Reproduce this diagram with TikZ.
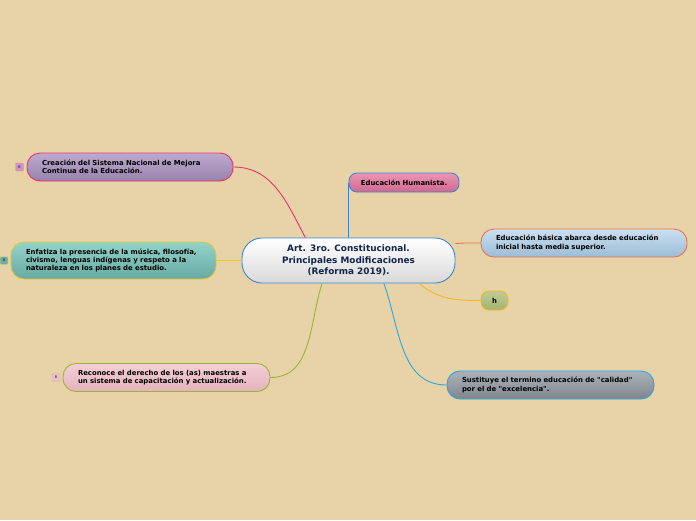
\documentclass[tikz,border=0pt]{standalone}
\usepackage{fontspec}
\setmainfont{DejaVu Sans}
\definecolor{fondo}{HTML}{E8D3A9}
\definecolor{rojo}{HTML}{E8336B}
\definecolor{amarillo}{HTML}{E6C82A}
\definecolor{verde}{HTML}{9AB532}
\definecolor{azul}{HTML}{3A86D0}
\definecolor{naranja}{HTML}{EE7050}
\definecolor{oro}{HTML}{F4B81C}
\definecolor{cian}{HTML}{29A8E0}
\definecolor{marino}{HTML}{14244A}
\begin{document}
\begin{tikzpicture}[x=1pt,y=-1pt,
  rama/.style={rounded corners=13pt,draw,line width=0.9pt,minimum height=28pt,
    inner xsep=15pt,inner ysep=2pt,align=left,text=black,
    font=\fontsize{6.9}{8.3}\selectfont\bfseries},
  marca/.style={rounded corners=1pt,draw,line width=0.4pt,minimum size=8pt,
    inner sep=0pt,font=\fontsize{3.5}{4}\selectfont},
  enlace/.style={line width=0.9pt}]

\useasboundingbox[fill=fondo] (0,0) rectangle (696,520);

% Nodo central
\node[rounded corners=20pt,draw=azul,line width=0.9pt,top color=white,
  bottom color=gray!30,minimum width=213pt,minimum height=45pt,align=center,
  text=marino,font=\fontsize{8.9}{11.5}\selectfont\bfseries]
  (centro) at (348.5,260.5)
  {Art. 3ro. Constitucional.\\Principales Modificaciones\\(Reforma 2019).};

% Creacion
\node[rama,draw=rojo,top color={rgb,255:red,190;green,170;blue,208},
  bottom color={rgb,255:red,152;green,130;blue,172},text width=176pt]
  (crea) at (130,167) {Creación del Sistema Nacional de Mejora\\Continua de la Educación.};
\node[marca,draw=rojo!60,fill={rgb,255:red,200;green,150;blue,200}] (m1) at (19.5,167) {6};
\draw[enlace,rojo] (crea.east) to[out=0,in=118] (centro.152);

% Enfatiza
\node[rama,draw=amarillo,minimum height=37pt,top color={rgb,255:red,146;green,212;blue,202},
  bottom color={rgb,255:red,104;green,170;blue,162},text width=175pt]
  (enfa) at (113.5,260.5) {Enfatiza la presencia de la música, filosofía,\\civismo, lenguas indígenas y respeto a la\\naturaleza en los planes de estudio.};
\node[marca,draw=amarillo!70,fill={rgb,255:red,110;green,175;blue,165}] (m2) at (4,260.5) {8};
\draw[enlace,amarillo] (enfa.east) -- (centro.west);

% Reconoce
\node[rama,draw=verde,top color={rgb,255:red,244;green,206;blue,214},
  bottom color={rgb,255:red,228;green,178;blue,190},text width=177pt]
  (reco) at (166.5,377.5) {Reconoce el derecho de los (as) maestras a\\un sistema de capacitación y actualización.};
\node[marca,draw=verde!70,fill={rgb,255:red,236;green,190;blue,200}] (m3) at (56,377.5) {8};
\draw[enlace,verde] (reco.east) to[out=0,in=-108] (centro.221);

% Educacion Humanista
\node[rama,draw=azul,rounded corners=8pt,minimum height=19pt,minimum width=110pt,
  inner xsep=4pt,align=center,top color={rgb,255:red,234;green,150;blue,180},
  bottom color={rgb,255:red,208;green,104;blue,142}]
  (huma) at (404,182.5) {Educación Humanista.};
\draw[enlace,azul] (centro.north) -- (huma.west);

% Educacion basica
\node[rama,draw=naranja,top color={rgb,255:red,202;green,224;blue,240},
  bottom color={rgb,255:red,156;green,188;blue,214},text width=176pt]
  (basi) at (584,243) {Educación básica abarca desde educación\\inicial hasta media superior.};
\draw[enlace,naranja] (centro.9) to[out=5,in=180] (basi.west);

% h
\node[rama,draw=oro,rounded corners=8pt,minimum height=19pt,minimum width=27pt,
  inner xsep=2pt,align=center,top color={rgb,255:red,192;green,204;blue,146},
  bottom color={rgb,255:red,164;green,180;blue,112}]
  (hh) at (494.5,300.5) {h};
\draw[enlace,oro] (centro.-18) to[out=-40,in=180] (hh.west);

% Sustituye
\node[rama,draw=cian,top color={rgb,255:red,172;green,178;blue,186},
  bottom color={rgb,255:red,128;green,134;blue,142},text width=177pt]
  (sust) at (550.5,385) {Sustituye el termino educación de \textquotedbl calidad\textquotedbl\\por el de \textquotedbl excelencia\textquotedbl.};
\draw[enlace,cian] (centro.-33) to[out=-70,in=180] (sust.west);

\end{tikzpicture}
\end{document}
